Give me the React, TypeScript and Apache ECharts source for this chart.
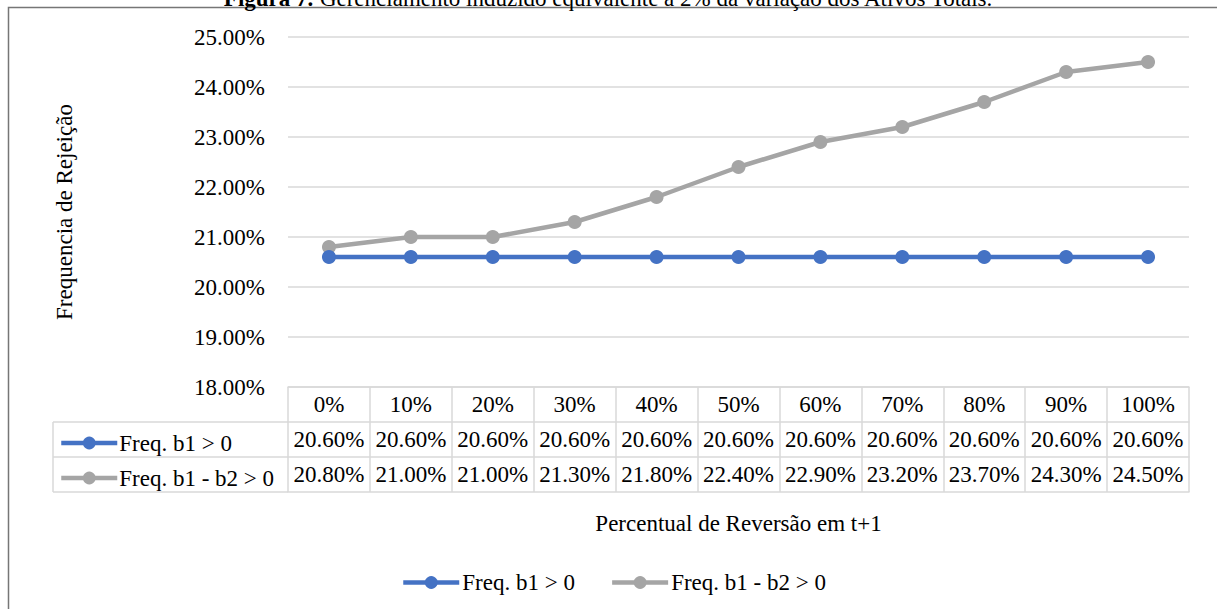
import React, { useEffect, useRef } from "react";
import * as echarts from "echarts";

const categories = ["0%", "10%", "20%", "30%", "40%", "50%", "60%", "70%", "80%", "90%", "100%"];
const freqB1 = [20.6, 20.6, 20.6, 20.6, 20.6, 20.6, 20.6, 20.6, 20.6, 20.6, 20.6];
const freqB1B2 = [20.8, 21.0, 21.0, 21.3, 21.8, 22.4, 22.9, 23.2, 23.7, 24.3, 24.5];
const seriesNames = ["Freq. b1 > 0", "Freq. b1 - b2 > 0"];
const yMin = 18;
const yMax = 25;
const yStep = 1;

const FONT = '"Liberation Serif", "Times New Roman", serif';
const FS = 23;
const GRID_C = "#d9d9d9";
const BLUE = "#4472C4";
const GRAY = "#A5A5A5";

const fmt = (v: number) => v.toFixed(2) + "%";

export default function App() {
  const ref = useRef<HTMLDivElement>(null);
  useEffect(() => {
    if (!ref.current) return;
    const chart = echarts.init(ref.current, undefined, { renderer: "svg" });
    const gridLeft = 288;
    const gridRight = 28;
    const gridTop = 37;
    const gridBottom = 222;
    const axisY = 609 - gridBottom; // 387
    const rowH = [35, 35, 35];
    const lineY = [axisY, axisY + rowH[0], axisY + rowH[0] + rowH[1], axisY + rowH[0] + rowH[1] + rowH[2]];
    const tableLeft = 53;

    const baseX = {
      type: "category",
      data: categories,
      gridIndex: 0,
      position: "bottom",
      boundaryGap: true,
      axisLine: { show: true, lineStyle: { color: GRID_C, width: 1.5 } },
      axisTick: { show: true, interval: 0, lineStyle: { color: GRID_C, width: 1.5 } },
      splitLine: { show: false },
    };

    const labelStyle = {
      fontFamily: FONT,
      fontSize: FS,
      color: "#000",
      verticalAlign: "middle",
      interval: 0,
    };

    const rowLegend = (name: string, top: number) => ({
      data: [name],
      left: 59,
      top,
      padding: 0,
      itemWidth: 56,
      itemHeight: 16,
      lineStyle: { width: 4.5 },
      textStyle: { fontFamily: FONT, fontSize: FS, color: "#000", padding: [0, 0, 0, -3] },
      selectedMode: false,
    });

    const option: any = {
      animation: false,
      backgroundColor: "#fff",
      title: {
        left: "center",
        top: -18,
        text: "{b|Figura 7.} Gerenciamento induzido equivalente a 2% da variação dos Ativos Totais.",
        textStyle: {
          fontFamily: FONT,
          fontSize: FS,
          fontWeight: "normal",
          color: "#000",
          rich: { b: { fontFamily: FONT, fontSize: FS, fontWeight: "bold", color: "#000" } },
        },
      },
      grid: { left: gridLeft, right: gridRight, top: gridTop, bottom: gridBottom, containLabel: false },
      xAxis: [
        {
          ...baseX,
          offset: 0,
          axisTick: { ...baseX.axisTick, length: rowH[0] },
          axisLabel: { ...labelStyle, margin: rowH[0] / 2 },
        },
        {
          ...baseX,
          offset: rowH[0],
          axisTick: { ...baseX.axisTick, length: rowH[1] },
          axisLabel: { ...labelStyle, margin: rowH[1] / 2, formatter: (_v: string, i: number) => fmt(freqB1[i]) },
        },
        {
          ...baseX,
          offset: rowH[0] + rowH[1],
          axisTick: { ...baseX.axisTick, length: rowH[2] },
          axisLabel: { ...labelStyle, margin: rowH[2] / 2, formatter: (_v: string, i: number) => fmt(freqB1B2[i]) },
        },
        {
          ...baseX,
          offset: rowH[0] + rowH[1] + rowH[2],
          axisTick: { show: false },
          axisLabel: { show: false },
          name: "Percentual de Reversão em t+1",
          nameLocation: "middle",
          nameGap: 20,
          nameTextStyle: { fontFamily: FONT, fontSize: FS, color: "#000", verticalAlign: "top" },
        },
      ],
      yAxis: {
        type: "value",
        min: yMin,
        max: yMax,
        interval: yStep,
        axisLine: { show: false },
        axisTick: { show: false },
        splitLine: { show: true, lineStyle: { color: GRID_C, width: 1.5 } },
        axisLabel: { fontFamily: FONT, fontSize: FS, color: "#000", margin: 23, formatter: (v: number) => fmt(v) },
        name: "Frequencia de Rejeição",
        nameLocation: "middle",
        nameGap: 212,
        nameTextStyle: { fontFamily: FONT, fontSize: FS, color: "#000" },
      },
      legend: [
        {
          data: seriesNames,
          left: 401,
          top: 571,
          padding: 0,
          itemWidth: 56,
          itemHeight: 16,
          itemGap: 35,
          lineStyle: { width: 4.5 },
          textStyle: { fontFamily: FONT, fontSize: FS, color: "#000", padding: [0, 0, 0, -2] },
          selectedMode: false,
        },
        rowLegend(seriesNames[0], lineY[1] + rowH[1] / 2 - 8),
        rowLegend(seriesNames[1], lineY[2] + rowH[2] / 2 - 8),
      ],
      graphic: [
        {
          type: "rect",
          shape: { x: 8.5, y: 7.5, width: 1400, height: 800 },
          style: { fill: "none", stroke: "#767676", lineWidth: 1.5 },
          silent: true,
          z: -1,
        },
        ...[1, 2, 3].map((k) => ({
          type: "line",
          shape: { x1: tableLeft, y1: lineY[k], x2: gridLeft, y2: lineY[k] },
          style: { stroke: GRID_C, lineWidth: 1.5 },
          silent: true,
        })),
        {
          type: "line",
          shape: { x1: tableLeft, y1: lineY[1], x2: tableLeft, y2: lineY[3] },
          style: { stroke: GRID_C, lineWidth: 1.5 },
          silent: true,
        },
      ],
      series: [
        {
          name: seriesNames[0],
          type: "line",
          data: freqB1,
          symbol: "circle",
          symbolSize: 14,
          lineStyle: { color: BLUE, width: 4.5 },
          itemStyle: { color: BLUE },
          z: 3,
        },
        {
          name: seriesNames[1],
          type: "line",
          data: freqB1B2,
          symbol: "circle",
          symbolSize: 14,
          lineStyle: { color: GRAY, width: 4.5 },
          itemStyle: { color: GRAY },
          z: 2,
        },
      ],
    };
    chart.setOption(option);
    return () => chart.dispose();
  }, []);
  return (
    <div
      ref={ref}
      style={{ position: "fixed", left: 0, top: 0, width: 1217, height: 609, background: "#fff" }}
    />
  );
}
